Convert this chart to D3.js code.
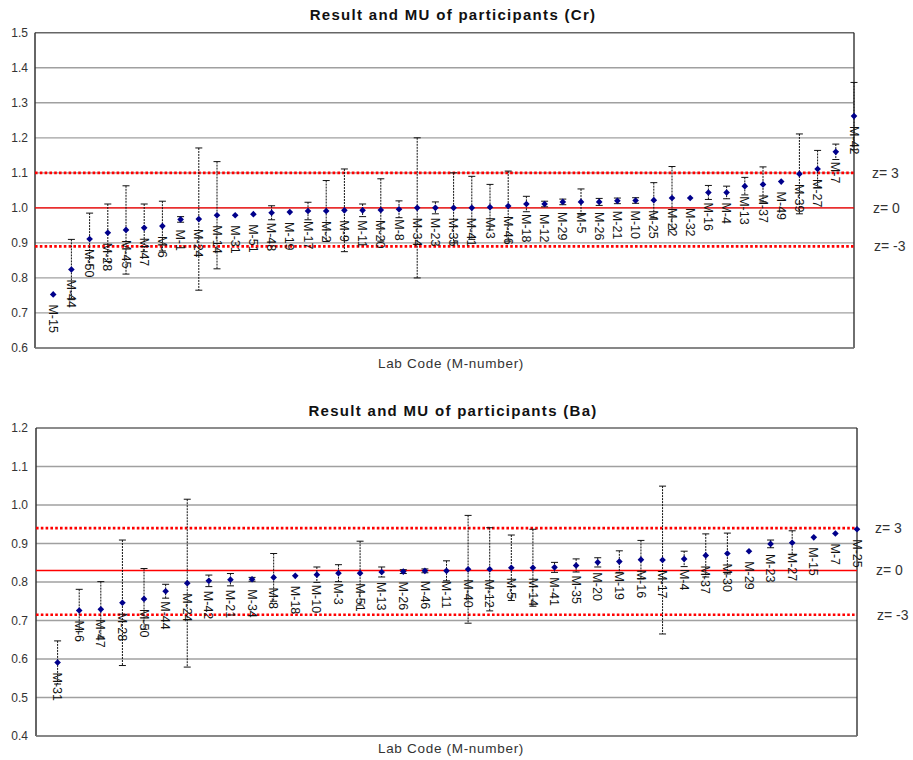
<!DOCTYPE html>
<html lang="en">
<head>
<meta charset="UTF-8">
<title>Result and MU of participants</title>
<style>
    body{ margin:0; background:white; }
    svg text{ font-family:"Liberation Sans", Arial, sans-serif; }
</style>
</head>
<body>
<script src="https://d3js.org/d3.v7.min.js"></script>
<script>

// ---- Cr data (sorted by result) ----
var crLabels = ["M-15","M-44","M-50","M-28","M-45","M-47","M-6","M-1","M-24","M-14","M-31","M-51","M-48","M-19","M-17",
    "M-2","M-9","M-11","M-20","M-8","M-34","M-23","M-35","M-41","M-3","M-46","M-18","M-12","M-29","M-5",
    "M-26","M-21","M-10","M-25","M-22","M-32","M-16","M-4","M-13","M-37","M-49","M-39","M-27","M-7","M-42"];
var crValues = [0.753,0.824,0.911,0.929,0.937,0.943,0.948,0.967,0.968,0.979,0.979,0.982,0.986,0.988,0.991,
    0.991,0.993,0.993,0.994,0.996,1.000,1.000,1.000,1.000,1.002,1.005,1.011,1.011,1.017,1.017,
    1.017,1.020,1.021,1.022,1.028,1.028,1.044,1.044,1.062,1.067,1.075,1.097,1.111,1.160,1.262];
var crUnc = [0,0.086,0.074,0.082,0.126,0.068,0.071,0.008,0.203,0.153,0,0,0.020,0,0.025,
    0.087,0.118,0.018,0.089,0.024,0.200,0.017,0.100,0.090,0.065,0.100,0.022,0.008,0.008,0.037,
    0.010,0.008,0.008,0.050,0.090,0,0.020,0.018,0.025,0.050,0,0.114,0.053,0.022,0.096];
var crTicks = [0.6,0.7,0.8,0.9,1.0,1.1,1.2,1.3,1.4,1.5];
var crZ = [{z:"z= 3", v:1.10, dot:true},{z:"z= 0", v:1.0, dot:false},{z:"z= -3", v:0.89, dot:true}];

// ---- Ba data ----
var baLabels = ["M-31","M-6","M-47","M-28","M-50","M-44","M-24","M-42","M-21","M-34","M-8","M-18","M-10","M-3","M-51",
    "M-13","M-26","M-46","M-11","M-40","M-12","M-5","M-14","M-41","M-35","M-20","M-19","M-16","M-17","M-4",
    "M-37","M-30","M-29","M-23","M-27","M-15","M-7","M-25"];
var baValues = [0.591,0.726,0.729,0.746,0.756,0.776,0.797,0.803,0.806,0.807,0.812,0.816,0.819,0.823,0.823,
    0.826,0.827,0.829,0.829,0.833,0.833,0.837,0.837,0.838,0.843,0.851,0.853,0.858,0.857,0.860,
    0.869,0.874,0.880,0.899,0.902,0.916,0.926,0.937];
var baUnc = [0.056,0.055,0.072,0.163,0.079,0.018,0.218,0.015,0.016,0.005,0.062,0,0.020,0.022,0.083,
    0.013,0.005,0.005,0.026,0.140,0.108,0.085,0.100,0.013,0.017,0.012,0.028,0.050,0.192,0.020,
    0.056,0.053,0,0.010,0.031,0,0,0];
var baTicks = [0.4,0.5,0.6,0.7,0.8,0.9,1.0,1.1,1.2];
var baZ = [{z:"z= 3", v:0.94, dot:true},{z:"z= 0", v:0.83, dot:false},{z:"z= -3", v:0.715, dot:true}];

var svg = d3.select("body").append("svg")
    .attr("width", 913)
    .attr("height", 760);

function drawChart(opt) {
    var g = svg.append("g");

    var x = d3.scaleLinear().domain([0, opt.labels.length]).range([opt.left, opt.right]);
    var y = d3.scaleLinear().domain(d3.extent(opt.ticks)).range([opt.bottom, opt.top]);

    // title
    g.append("text")
        .attr("x", 453).attr("y", opt.titleY)
        .attr("text-anchor", "middle")
        .style("font-size", "15px").style("font-weight", "bold")
        .style("letter-spacing", "1.3px")
        .style("fill", "#111")
        .text(opt.title);

    // grid
    g.selectAll(".grid").data(opt.ticks).enter().append("line")
        .attr("x1", opt.left).attr("x2", opt.right)
        .attr("y1", function(d){ return y(d); })
        .attr("y2", function(d){ return y(d); })
        .style("stroke", function(d,i){ return i == opt.ticks.length-1 ? "#666" : "#a0a0a0"; })
        .style("stroke-width", function(d,i){ return i == opt.ticks.length-1 ? 1.6 : 1.3; });

    // y tick labels
    g.selectAll(".ytl").data(opt.ticks).enter().append("text")
        .attr("x", 28)
        .attr("y", function(d){ return y(d); })
        .attr("dy", "0.35em")
        .attr("text-anchor", "end")
        .style("font-size", "12px").style("fill", "#333")
        .text(function(d){ return d3.format(".1f")(d); });

    // axes lines
    g.append("line").attr("x1", opt.left).attr("x2", opt.left)
        .attr("y1", opt.top).attr("y2", opt.bottom)
        .style("stroke", "#333").style("stroke-width", 1.5);
    g.append("line").attr("x1", opt.right).attr("x2", opt.right)
        .attr("y1", opt.top).attr("y2", opt.bottom)
        .style("stroke", "#222").style("stroke-width", 1.3);
    g.append("line").attr("x1", opt.left).attr("x2", opt.right)
        .attr("y1", opt.bottom).attr("y2", opt.bottom)
        .style("stroke", "#777").style("stroke-width", 1.5);

    // z lines
    g.selectAll(".zl").data(opt.z).enter().append("line")
        .attr("x1", opt.left).attr("x2", opt.right)
        .attr("y1", function(d){ return y(d.v); })
        .attr("y2", function(d){ return y(d.v); })
        .style("stroke", "#ff0000")
        .style("stroke-width", function(d){ return d.dot ? 2.6 : 1.4; })
        .style("stroke-dasharray", function(d){ return d.dot ? "2.6,2.2" : null; });

    g.selectAll(".zt").data(opt.z).enter().append("text")
        .attr("x", function(d,i){ return opt.right + 18 + i; })
        .attr("y", function(d){ return y(d.v); })
        .attr("dy", "0.35em")
        .style("font-size", "14px").style("fill", "#333")
        .text(function(d){ return d.z; });

    var data = opt.labels.map(function(l,i){ return {lab:l, v:opt.values[i], u:opt.unc[i], i:i+1}; });
    var bars = data.filter(function(d){ return d.u > 0; });

    // error bars
    g.selectAll(".eb").data(bars).enter().append("line")
        .attr("x1", function(d){ return x(d.i); }).attr("x2", function(d){ return x(d.i); })
        .attr("y1", function(d){ return y(d.v + d.u); })
        .attr("y2", function(d){ return y(d.v - d.u); })
        .style("stroke", "#111").style("stroke-width", 1)
        .style("stroke-dasharray", "2,1");
    [1,-1].forEach(function(s){
        g.selectAll(".cap").data(bars).enter().append("line")
            .attr("x1", function(d){ return x(d.i) - 3.5; })
            .attr("x2", function(d){ return x(d.i) + 3.5; })
            .attr("y1", function(d){ return y(d.v + s*d.u); })
            .attr("y2", function(d){ return y(d.v + s*d.u); })
            .style("stroke", "#111").style("stroke-width", 1);
    });

    // labels
    g.selectAll(".lab").data(data).enter().append("text")
        .attr("transform", function(d){ return "translate(" + x(d.i) + "," + (y(d.v) + 10) + ") rotate(90)"; })
        .attr("dy", "0.35em")
        .style("font-size", "12.5px").style("fill", "#111")
        .text(function(d){ return d.lab; });

    // markers
    g.selectAll(".pt").data(data).enter().append("path")
        .attr("d", d3.symbol().type(d3.symbolSquare).size(22))
        .attr("transform", function(d){ return "translate(" + x(d.i) + "," + y(d.v) + ") rotate(45)"; })
        .style("fill", "#00008b");

    // x axis title
    g.append("text")
        .attr("x", 451).attr("y", opt.labelY)
        .attr("text-anchor", "middle")
        .style("font-size", "13.5px").style("fill", "#333")
        .style("letter-spacing", "0.7px")
        .text("Lab Code (M-number)");
}

drawChart({
    title: "Result and MU of participants (Cr)", titleY: 20, labelY: 368,
    labels: crLabels, values: crValues, unc: crUnc, ticks: crTicks, z: crZ,
    left: 35, right: 854, top: 32.7, bottom: 348
});

drawChart({
    title: "Result and MU of participants (Ba)", titleY: 416, labelY: 753,
    labels: baLabels, values: baValues, unc: baUnc, ticks: baTicks, z: baZ,
    left: 36, right: 857, top: 428, bottom: 736
});

</script>
</body>
</html>
